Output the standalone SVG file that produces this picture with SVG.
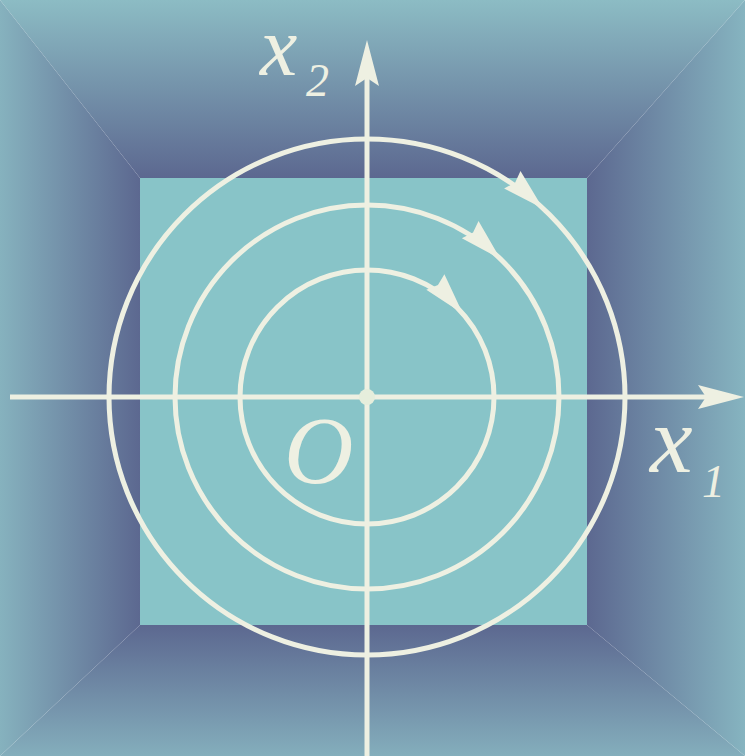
<svg xmlns="http://www.w3.org/2000/svg" width="745" height="756" viewBox="0 0 745 756">
<defs>
<linearGradient id="gt" gradientUnits="userSpaceOnUse" x1="0" y1="0" x2="0" y2="178"><stop offset="0" stop-color="#8cbcc4"/><stop offset="1" stop-color="#5c6890"/></linearGradient>
<linearGradient id="gb" gradientUnits="userSpaceOnUse" x1="0" y1="756" x2="0" y2="625"><stop offset="0" stop-color="#84aebc"/><stop offset="1" stop-color="#5c6890"/></linearGradient>
<linearGradient id="gl" gradientUnits="userSpaceOnUse" x1="0" y1="0" x2="140" y2="0"><stop offset="0" stop-color="#86b2be"/><stop offset="1" stop-color="#5c6890"/></linearGradient>
<linearGradient id="gr" gradientUnits="userSpaceOnUse" x1="745" y1="0" x2="587" y2="0"><stop offset="0" stop-color="#86b4c0"/><stop offset="1" stop-color="#5c6890"/></linearGradient>
<polygon id="ah" points="0,0 -42,-12 -38,0 -42,12"/>
</defs>
<style>
.ln{fill:none;stroke:#eef0e2;stroke-width:5}
.hd{fill:#eef0e2}
.lb{font-family:"Liberation Serif",serif;font-style:italic;fill:#eef0e2}
</style>
<g id="background">
<polygon points="0,0 745,0 587,178 140,178" fill="url(#gt)"/>
<polygon points="0,756 745,756 587,625 140,625" fill="url(#gb)"/>
<polygon points="0,0 140,178 140,625 0,756" fill="url(#gl)"/>
<polygon points="745,0 745,756 587,625 587,178" fill="url(#gr)"/>
<rect id="square" x="140" y="178" width="447" height="447" fill="#88c4c8"/>
</g>
<g id="circles">
<circle class="ln" cx="367" cy="397" r="258"/>
<circle class="ln" cx="367" cy="397" r="192"/>
<circle class="ln" cx="367" cy="397" r="127"/>
<use href="#ah" class="hd" transform="translate(543,208.4) rotate(43)"/>
<use href="#ah" class="hd" transform="translate(500.4,258.9) rotate(44)"/>
<use href="#ah" class="hd" transform="translate(462.9,313.7) rotate(49)"/>
</g>
<g id="connectors">
<line class="ln" x1="10" y1="397" x2="712" y2="397"/>
<polygon class="hd" points="744,397 698,385 706,397 698,409"/>
<line class="ln" x1="367" y1="756" x2="367" y2="72"/>
<polygon class="hd" points="367,40 355,86 367,78 379,86"/>
<circle cx="367" cy="397" r="8" fill="#e6eedc"/>
</g>
<g id="labels">
<text class="lb" x="260" y="75" font-size="84">x</text>
<text class="lb" x="306" y="96" font-size="46">2</text>
<text class="lb" x="284" y="483" font-size="96">O</text>
<text class="lb" x="650" y="472" font-size="96">x</text>
<text class="lb" x="702" y="497" font-size="46">1</text>
</g>
</svg>
